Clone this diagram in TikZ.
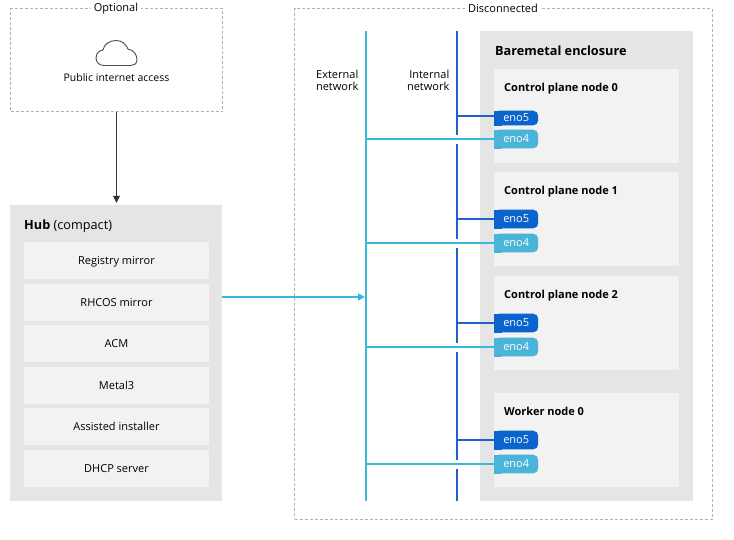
\documentclass[tikz,border=0pt]{standalone}
\usepackage{fontspec}
\setmainfont{Open Sans}
\usetikzlibrary{arrows.meta}
\definecolor{extline}{HTML}{39B7DC}
\definecolor{intline}{HTML}{2060CC}
\definecolor{porta}{HTML}{0B63CE}
\definecolor{portb}{HTML}{4AB5D8}
\colorlet{shell}{black!10}
\colorlet{boxfill}{black!5}
\colorlet{dashes}{black!30}
\tikzset{
    every node/.style={font=\fontsize{11}{12}\selectfont},
    optbox/.style={draw=dashes, densely dashed, inner sep=0pt},
    caption/.style={fill=white, inner xsep=3pt, inner ysep=1pt},
    shellbox/.style={fill=shell, inner sep=0pt},
    rowbox/.style={fill=boxfill, minimum width=185pt, minimum height=37pt, inner sep=0pt, text height=10pt, text depth=2pt},
    nodebox/.style={fill=boxfill, minimum width=185pt, minimum height=94pt, inner sep=0pt},
    headline/.style={anchor=west, inner sep=0pt, text height=9.5pt, text depth=2pt, font=\fontsize{11}{12}\selectfont\bfseries},
    porttab/.style={fill=#1, rounded corners=5pt, minimum width=44pt, inner sep=0pt, text=white},
    extwire/.style={draw=extline, line width=2pt},
    intwire/.style={draw=intline, line width=2pt},
}
\begin{document}
\begin{tikzpicture}[x=1pt,y=-1pt]
    \useasboundingbox (0,0) rectangle (734,539);

    % optional part
    \node[optbox, minimum width=212pt, minimum height=103pt] (optional) at (116.5,60) {};
    \node[caption] (optlabel) at (116,8.5) {Optional};
    \draw[black!70, line width=0.9pt] (104,65.5)
        .. controls (99,65.5) and (96,62) .. (96,58)
        .. controls (96,53.5) and (99,50.5) .. (103,50)
        .. controls (104,44) and (110,40.5) .. (116,40.5)
        .. controls (122,40.5) and (126,44) .. (128,49)
        .. controls (134,50) and (137,55) .. (137,60)
        .. controls (137,63.5) and (134,65.5) .. (131,65.5) -- cycle;
    \node[inner sep=0pt, text height=9.5pt, text depth=2pt, font=\fontsize{10.5}{12}\selectfont] (public) at (116.5,78) {Public internet access};

    % hub
    \node[shellbox, minimum width=212pt, minimum height=296pt] (hub) at (116,353) {};
    \node[headline, font=\fontsize{12.7}{14}\selectfont] (hubtitle) at (24,226) {\textbf{Hub} (compact)};
    \foreach \name/\y/\txt in {registry/260.5/Registry mirror, rhcos/302.5/RHCOS mirror, acm/343.5/ACM,
        metal/385.5/Metal3, assisted/426.5/Assisted installer, dhcp/468.5/DHCP server}
        \node[rowbox] (\name) at (116.5,\y) {\txt};
    \draw[-{Triangle[length=7pt,width=7pt]}, black!80, line width=0.8pt] (optional.south) -- ([yshift=2pt]optional.south |- hub.north);

    % disconnected part
    \node[optbox, minimum width=417.5pt, minimum height=510.5pt] (disconnected) at (503.25,263.75) {};
    \node[caption] (dislabel) at (503,8.5) {Disconnected};
    \node[shellbox, minimum width=213pt, minimum height=470pt] (enclosure) at (586.5,266) {};
    \node[headline, font=\fontsize{12.7}{14}\selectfont\bfseries] (enctitle) at (495,52) {Baremetal enclosure};

    \coordinate (exttop) at (366,31);
    \coordinate (extbot) at (366,501);
    \coordinate (inttop) at (457,31);
    \coordinate (intbot) at (457,501);
    \node[align=right, anchor=north east, inner sep=0pt] (extlabel) at (358.5,69.5) {External\\network};
    \node[align=right, anchor=north east, inner sep=0pt] (intlabel) at (449.5,69.5) {Internal\\network};
    \draw[extwire] (exttop) -- (extbot);

    \foreach \id/\ytop/\txt/\ya/\ha/\sa/\yb in {c0/69/Control plane node 0/118/14.6/2/139, c1/172/Control plane node 1/219/18.6/0/243,
        c2/276/Control plane node 2/323/18.6/0/347, w0/393/Worker node 0/440/18.6/0/464} {
        \node[nodebox, anchor=north] (\id) at (586.5,\ytop) {};
        \node[headline] (\id head) at (504,\ytop+18.5) {\txt};
        \node[porttab=porta, minimum height=\ha pt, anchor=west] (\id a) at (494,\ya) {eno5};
        \node[porttab=portb, minimum height=18.6pt, anchor=west] (\id b) at (494,\yb) {eno4};
        \fill[porta] (\id a.south west) rectangle ([xshift=8pt]\id a.north west);
        \fill[portb] (\id b.south west) rectangle ([xshift=8pt]\id b.north west);
        \draw[extwire] (\id b.west) -- (\id b.west -| exttop);
        \draw[intwire] ([yshift=\sa pt]\id a.west) -- ([yshift=\sa pt]\id a.west -| inttop);
    }

    % internal network, broken where the external links pass
    \draw[intwire] (inttop) -- ([yshift=4.5pt]c0b.west -| inttop);
    \draw[intwire] ([yshift=-4.5pt]c0b.west -| inttop) -- ([yshift=4.5pt]c1b.west -| inttop);
    \draw[intwire] ([yshift=-4.5pt]c1b.west -| inttop) -- ([yshift=4.5pt]c2b.west -| inttop);
    \draw[intwire] ([yshift=-4.5pt]c2b.west -| inttop) -- ([yshift=4.5pt]w0b.west -| inttop);
    \draw[intwire] ([yshift=-4.5pt]w0b.west -| inttop) -- (intbot);

    % hub uplink
    \coordinate (uplink) at (365,297);
    \draw[extwire, -{Triangle[length=7pt,width=7pt]}] (hub.east |- uplink) -- (uplink);
\end{tikzpicture}
\end{document}
